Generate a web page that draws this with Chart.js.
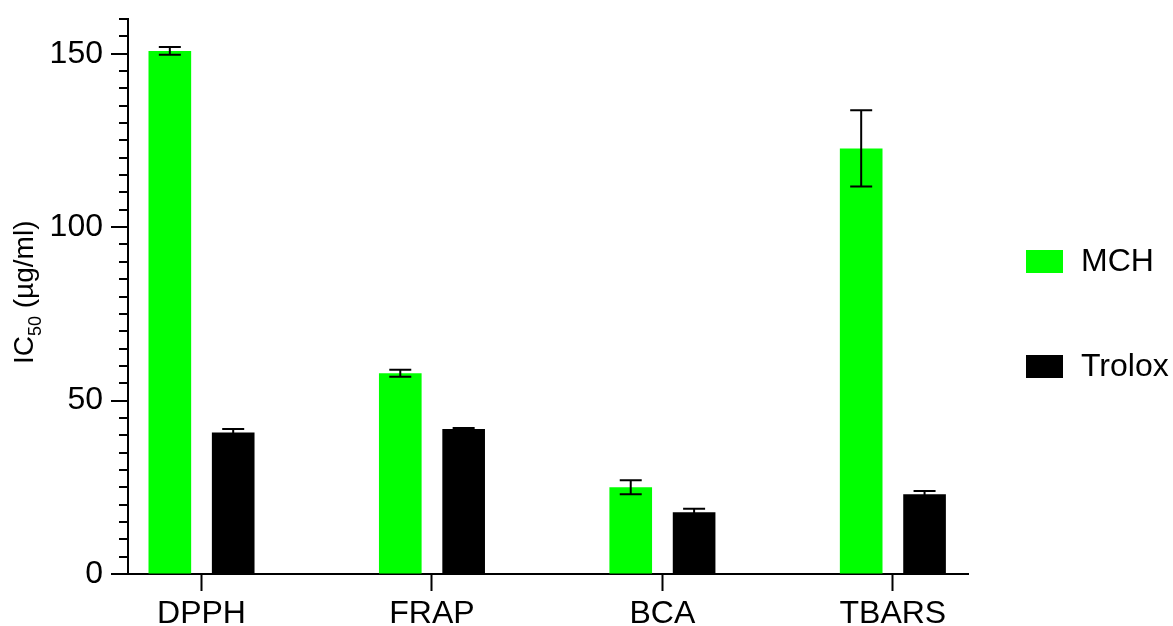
<!DOCTYPE html>
<html>
<head>
<meta charset="utf-8">
<script src="https://cdn.jsdelivr.net/npm/chart.js@4"></script>
<style>
  body { margin: 0; background: #fff; }
  #wrap { width: 1173px; height: 626px; }
</style>
</head>
<body>
<div id="wrap"><canvas id="chart" width="1173" height="626"></canvas></div>
<script>
const categories = ['DPPH', 'FRAP', 'BCA', 'TBARS'];
const seriesNames = ['MCH', 'Trolox'];
const mchValues = [150.8, 57.9, 25.0, 122.7];
const mchErrors = [1.1, 1.0, 2.0, 11.0];
const troloxValues = [40.8, 41.8, 17.8, 23.0];
const troloxErrors = [1.0, 0.3, 1.0, 0.9];
const yTickLabels = [0, 50, 100, 150];

const FONT = "'Liberation Sans', Arial, sans-serif";

// error bars drawn from the y scale
const errorBars = {
    id: 'errorBars',
    afterDatasetsDraw(chart) {
        const ctx = chart.ctx;
        const y = chart.scales.y;
        const errs = [mchErrors, troloxErrors];
        ctx.save();
        ctx.strokeStyle = '#000';
        ctx.lineWidth = 2;
        chart.data.datasets.forEach((ds, i) => {
            const meta = chart.getDatasetMeta(i);
            meta.data.forEach((bar, j) => {
                const v = ds.data[j].y;
                const top = y.getPixelForValue(v + errs[i][j]);
                const bottom = y.getPixelForValue(v - errs[i][j]);
                ctx.beginPath();
                ctx.moveTo(bar.x, top);
                ctx.lineTo(bar.x, bottom);
                ctx.moveTo(bar.x - 11, top);
                ctx.lineTo(bar.x + 11, top);
                ctx.moveTo(bar.x - 11, bottom);
                ctx.lineTo(bar.x + 11, bottom);
                ctx.stroke();
            });
        });
        ctx.restore();
    }
};

// y tick marks: long at labelled values, short every 5 units
const yTicks = {
    id: 'yTicks',
    afterDraw(chart) {
        const ctx = chart.ctx;
        const y = chart.scales.y;
        const left = chart.chartArea.left;
        ctx.save();
        ctx.strokeStyle = '#000';
        ctx.lineWidth = 2;
        for (let v = y.min; v <= y.max; v += 5) {
            const py = Math.round(y.getPixelForValue(v));
            const len = yTickLabels.includes(v) ? 17 : 9;
            ctx.beginPath();
            ctx.moveTo(left - len, py);
            ctx.lineTo(left, py);
            ctx.stroke();
        }
        ctx.restore();
    }
};

// rotated axis title with subscript
const yTitle = {
    id: 'yTitle',
    afterDraw(chart) {
        const ctx = chart.ctx;
        ctx.save();
        ctx.translate(33, 364);
        ctx.rotate(-Math.PI / 2);
        ctx.fillStyle = '#000';
        ctx.textBaseline = 'alphabetic';
        ctx.font = '28px ' + FONT;
        ctx.fillText('IC', 0, 0);
        let x = ctx.measureText('IC').width;
        ctx.font = '18px ' + FONT;
        ctx.fillText('50', x, 8);
        x += ctx.measureText('50').width;
        ctx.font = '28px ' + FONT;
        ctx.fillText(' (\u00b5g/ml)', x, 0);
        ctx.restore();
    }
};

// legend on the right
const sideLegend = {
    id: 'sideLegend',
    afterDraw(chart) {
        const ctx = chart.ctx;
        const rows = [250, 355];
        ctx.save();
        ctx.font = '32px ' + FONT;
        ctx.textBaseline = 'middle';
        chart.data.datasets.forEach((ds, i) => {
            ctx.fillStyle = ds.backgroundColor;
            ctx.fillRect(1026, rows[i], 37, 23);
            ctx.fillStyle = '#000';
            ctx.fillText(ds.label, 1081, rows[i] + 12);
        });
        ctx.restore();
    }
};

new Chart(document.getElementById('chart'), {
    type: 'bar',
    data: {
        datasets: [
            {
                label: seriesNames[0],
                data: mchValues.map((v, i) => ({ x: i + 1, y: v })),
                backgroundColor: '#00ff00',
                borderWidth: 0
            },
            {
                label: seriesNames[1],
                data: troloxValues.map((v, i) => ({ x: i + 1, y: v })),
                backgroundColor: '#000000',
                borderWidth: 0
            }
        ]
    },
    options: {
        responsive: false,
        animation: false,
        categoryPercentage: 0.55,
        barPercentage: 0.673,
        layout: { padding: { top: 19, right: 205, left: 0, bottom: 0 } },
        plugins: {
            legend: { display: false },
            tooltip: { enabled: false }
        },
        scales: {
            x: {
                type: 'linear',
                min: 0.681,
                max: 4.326,
                offset: false,
                afterBuildTicks: scale => {
                    scale.ticks = categories.map((c, i) => ({ value: i + 1 }));
                },
                afterFit: scale => { scale.height = 52; },
                ticks: {
                    autoSkip: false,
                    maxRotation: 0,
                    padding: 4,
                    color: '#000',
                    font: { size: 32, family: FONT },
                    callback: (v, i) => categories[i]
                },
                grid: {
                    offset: false,
                    drawOnChartArea: false,
                    tickLength: 17,
                    tickWidth: 2,
                    tickColor: '#000'
                },
                border: { display: true, color: '#000', width: 2 }
            },
            y: {
                min: 0,
                max: 160,
                afterFit: scale => {
                    scale.width = 128;
                    scale.paddingTop = 0;
                    scale.paddingBottom = 0;
                },
                afterBuildTicks: scale => {
                    scale.ticks = yTickLabels.map(v => ({ value: v }));
                },
                ticks: {
                    padding: 8,
                    color: '#000',
                    font: { size: 32, family: FONT }
                },
                grid: {
                    drawOnChartArea: false,
                    tickLength: 17,
                    tickColor: 'rgba(0,0,0,0)'
                },
                border: { display: true, color: '#000', width: 2 }
            }
        }
    },
    plugins: [errorBars, yTicks, yTitle, sideLegend]
});
</script>
</body>
</html>
